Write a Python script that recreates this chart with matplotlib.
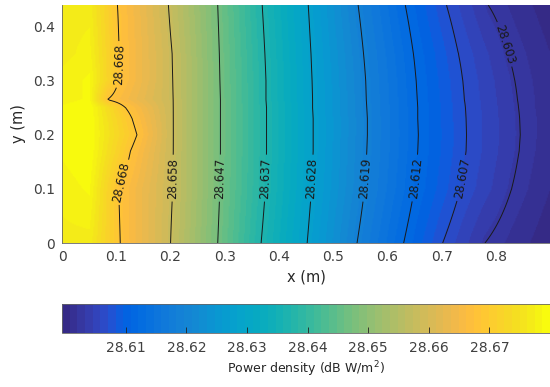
import numpy as np
import matplotlib
matplotlib.use("Agg")
import matplotlib.pyplot as plt
from matplotlib.colors import ListedColormap

# MATLAB parula (64 entries)
PARULA = [
    [0.2081, 0.1663, 0.5292], [0.2116, 0.1898, 0.5777], [0.2123, 0.2138, 0.6270],
    [0.2081, 0.2386, 0.6771], [0.1959, 0.2645, 0.7279], [0.1707, 0.2919, 0.7792],
    [0.1253, 0.3242, 0.8303], [0.0591, 0.3598, 0.8683], [0.0117, 0.3875, 0.8820],
    [0.0060, 0.4086, 0.8828], [0.0165, 0.4266, 0.8786], [0.0329, 0.4430, 0.8720],
    [0.0498, 0.4586, 0.8641], [0.0629, 0.4737, 0.8554], [0.0723, 0.4887, 0.8467],
    [0.0779, 0.5040, 0.8384], [0.0793, 0.5200, 0.8312], [0.0749, 0.5375, 0.8263],
    [0.0641, 0.5570, 0.8240], [0.0488, 0.5772, 0.8228], [0.0343, 0.5966, 0.8199],
    [0.0265, 0.6137, 0.8135], [0.0239, 0.6287, 0.8038], [0.0231, 0.6418, 0.7913],
    [0.0228, 0.6535, 0.7768], [0.0267, 0.6642, 0.7607], [0.0384, 0.6743, 0.7436],
    [0.0590, 0.6838, 0.7254], [0.0843, 0.6928, 0.7062], [0.1133, 0.7015, 0.6859],
    [0.1453, 0.7098, 0.6646], [0.1801, 0.7177, 0.6424], [0.2178, 0.7250, 0.6193],
    [0.2586, 0.7317, 0.5954], [0.3022, 0.7376, 0.5712], [0.3482, 0.7424, 0.5473],
    [0.3953, 0.7459, 0.5244], [0.4420, 0.7481, 0.5033], [0.4871, 0.7491, 0.4840],
    [0.5300, 0.7491, 0.4661], [0.5709, 0.7485, 0.4494], [0.6099, 0.7473, 0.4337],
    [0.6473, 0.7456, 0.4188], [0.6834, 0.7435, 0.4044], [0.7184, 0.7411, 0.3905],
    [0.7525, 0.7384, 0.3768], [0.7858, 0.7356, 0.3633], [0.8185, 0.7327, 0.3498],
    [0.8507, 0.7299, 0.3360], [0.8824, 0.7274, 0.3217], [0.9139, 0.7258, 0.3063],
    [0.9450, 0.7261, 0.2886], [0.9739, 0.7314, 0.2666], [0.9938, 0.7455, 0.2403],
    [0.9990, 0.7653, 0.2164], [0.9955, 0.7861, 0.1967], [0.9880, 0.8066, 0.1794],
    [0.9789, 0.8271, 0.1633], [0.9697, 0.8481, 0.1475], [0.9626, 0.8705, 0.1309],
    [0.9589, 0.8949, 0.1132], [0.9598, 0.9218, 0.0948], [0.9661, 0.9514, 0.0755],
    [0.9763, 0.9831, 0.0538],
]
parula = ListedColormap(PARULA, name="parula")

# contour levels (dB W/m^2)
levels = [28.603, 28.607, 28.612, 28.619, 28.628, 28.637, 28.647, 28.658, 28.668]

# y rows (m) at which the positions below were read
y_rows = [0.0, 0.10, 0.17, 0.20, 0.23, 0.25, 0.265, 0.30, 0.35, 0.44]

# x position (m) of each contour level on each row, one list per level
x_603 = [0.780, 0.829, 0.843, 0.845, 0.844, 0.842, 0.840, 0.835, 0.822, 0.786]
x_607 = [0.702, 0.735, 0.745, 0.746, 0.745, 0.744, 0.742, 0.739, 0.731, 0.709]
x_612 = [0.630, 0.650, 0.656, 0.657, 0.656, 0.656, 0.655, 0.653, 0.648, 0.633]
x_619 = [0.544, 0.558, 0.562, 0.563, 0.563, 0.562, 0.561, 0.560, 0.556, 0.546]
x_628 = [0.452, 0.460, 0.463, 0.463, 0.463, 0.462, 0.462, 0.461, 0.459, 0.454]
x_637 = [0.367, 0.375, 0.377, 0.377, 0.377, 0.377, 0.376, 0.376, 0.374, 0.369]
x_647 = [0.287, 0.291, 0.292, 0.292, 0.292, 0.292, 0.292, 0.291, 0.290, 0.287]
x_658 = [0.200, 0.204, 0.205, 0.205, 0.205, 0.205, 0.205, 0.204, 0.203, 0.196]
x_668 = [0.107, 0.104, 0.126, 0.138, 0.129, 0.117, 0.083, 0.104, 0.105, 0.102]

# values at the left edge, near the source (x=0.05) and right edge
v_left = [28.677, 28.678, 28.679, 28.679, 28.679, 28.679, 28.678, 28.678, 28.677, 28.677]
v_src = [28.677, 28.679, 28.680, 28.680, 28.680, 28.680, 28.679, 28.679, 28.678, 28.677]
v_right = [28.5998, 28.6008, 28.6012, 28.6013, 28.6013, 28.6012, 28.6012, 28.6011, 28.6008, 28.5999]

X_MAX = 0.9
Y_MAX = 0.44
VMIN, VMAX = 28.5995, 28.680
cbar_ticks = [28.61, 28.62, 28.63, 28.64, 28.65, 28.66, 28.67]

# build the field on a fine grid from the table
xs = np.linspace(0, X_MAX, 451)
ys = np.linspace(0, Y_MAX, 221)
pos = np.array([x_603, x_607, x_612, x_619, x_628, x_637, x_647, x_658, x_668])
rows = np.empty((len(y_rows), xs.size))
for i in range(len(y_rows)):
    xp = np.concatenate(([0.0, 0.05], pos[::-1, i], [X_MAX]))
    fp = np.concatenate(([v_left[i], v_src[i]], levels[::-1], [v_right[i]]))
    rows[i] = np.interp(xs, xp, fp)
Z = np.empty((ys.size, xs.size))
for j in range(xs.size):
    Z[:, j] = np.interp(ys, y_rows, rows[:, j])

fig = plt.figure(figsize=(5.5, 3.87), dpi=100)
ax = fig.add_axes([0.113, 0.372, 0.887, 0.615])
cax = fig.add_axes([0.113, 0.140, 0.887, 0.075])

im = ax.imshow(Z, origin="lower", extent=[0, X_MAX, 0, Y_MAX], aspect="auto",
               cmap=parula, vmin=VMIN, vmax=VMAX, interpolation="bilinear")
cs = ax.contour(xs, ys, Z, levels=levels, colors="#1a1a1a", linewidths=0.7)
label_pos = [(0.825, 0.37), (0.737, 0.12), (0.652, 0.12), (0.557, 0.12),
             (0.460, 0.12), (0.375, 0.12), (0.291, 0.12), (0.203, 0.12),
             (0.104, 0.115), (0.104, 0.33)]
ax.clabel(cs, fmt="%.3f", fontsize=8.5, inline=True, inline_spacing=3, manual=label_pos)

tick_color = "#404040"
ax.set_xlim(0, X_MAX)
ax.set_ylim(0, Y_MAX)
ax.set_xticks([0, 0.1, 0.2, 0.3, 0.4, 0.5, 0.6, 0.7, 0.8])
ax.set_xticklabels(["0", "0.1", "0.2", "0.3", "0.4", "0.5", "0.6", "0.7", "0.8"])
ax.set_yticks([0, 0.1, 0.2, 0.3, 0.4])
ax.set_yticklabels(["0", "0.1", "0.2", "0.3", "0.4"])
ax.tick_params(length=0, labelsize=10, colors=tick_color, pad=5)
for side in ["top", "right"]:
    ax.spines[side].set_visible(False)
for side in ["left", "bottom"]:
    ax.spines[side].set_color("#666666")
    ax.spines[side].set_linewidth(0.6)
ax.set_xlabel("x (m)", fontsize=10.5, color="#262626", labelpad=4)
ax.set_ylabel("y (m)", fontsize=10.5, color="#262626", labelpad=5)

cb = fig.colorbar(im, cax=cax, orientation="horizontal", ticks=cbar_ticks)
cb.ax.set_xticklabels([f"{t:.2f}" for t in cbar_ticks])
cb.ax.tick_params(direction="in", length=4, width=0.6, colors=tick_color,
                  labelsize=10, pad=6)
cb.ax.tick_params(axis="x", color="#222222")
cb.outline.set_linewidth(0.6)
cb.outline.set_edgecolor("#666666")
cb.set_label("Power density (dB W/m$^2$)", fontsize=9, color="#262626", labelpad=3)

fig.savefig("out.png", dpi=100)
